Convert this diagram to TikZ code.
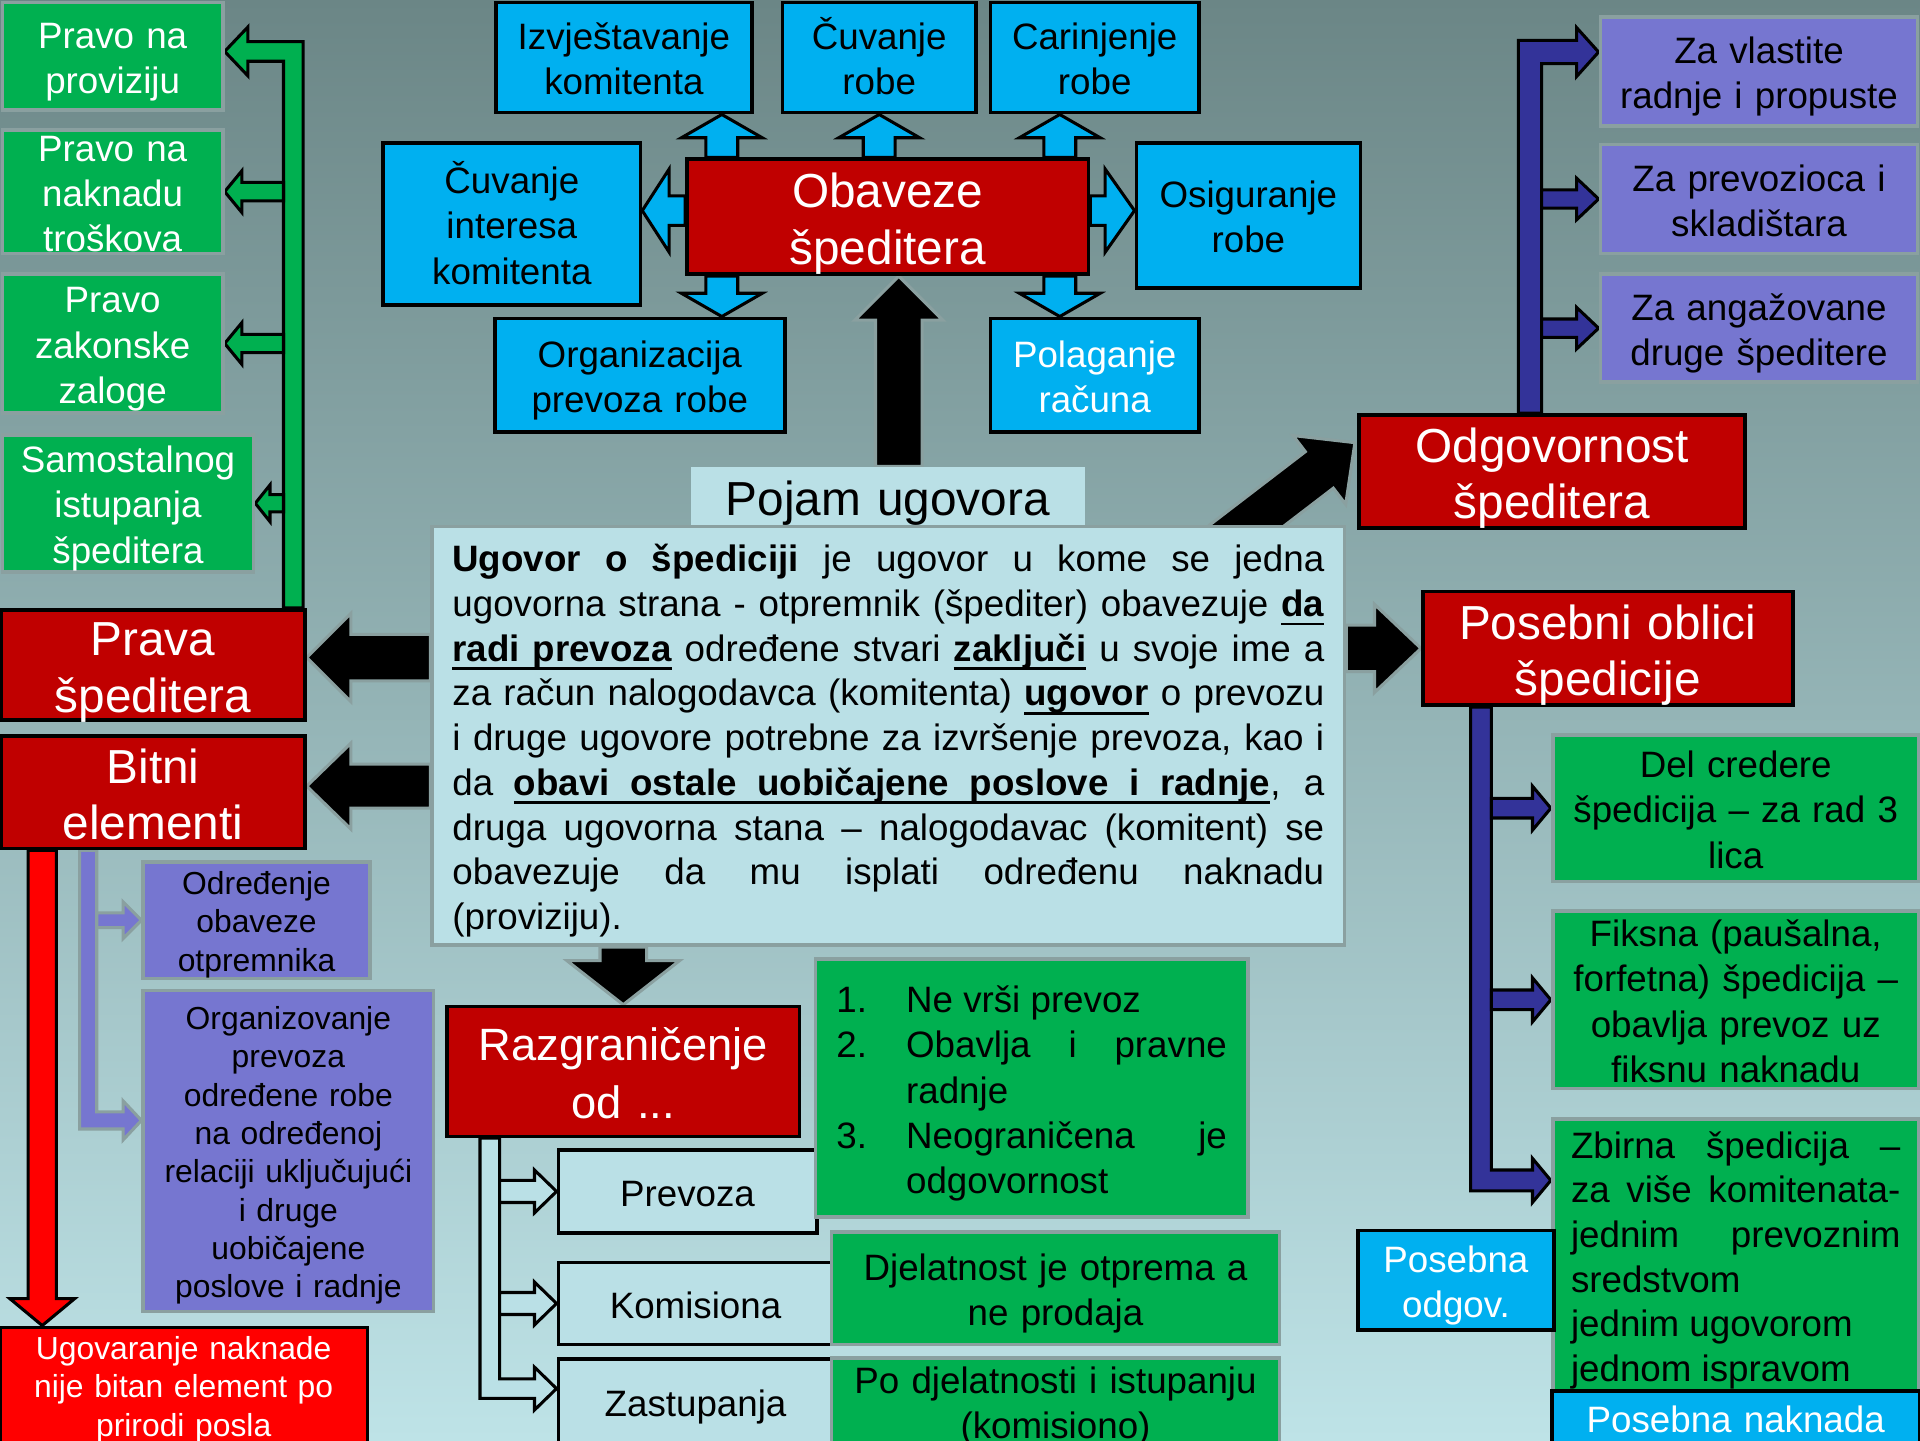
\documentclass[tikz,border=0pt]{standalone}
\usepackage{fontspec}
\setmainfont{Liberation Sans}
\usetikzlibrary{calc,backgrounds}

\definecolor{bgtop}{RGB}{107,134,134}
\definecolor{bgbot}{RGB}{190,227,231}
\definecolor{grn}{RGB}{0,176,80}
\definecolor{cyanb}{RGB}{0,176,240}
\definecolor{darkred}{RGB}{192,0,0}
\definecolor{brightred}{RGB}{255,0,0}
\definecolor{lila}{RGB}{118,118,208}
\definecolor{navy}{RGB}{51,51,153}
\definecolor{pale}{RGB}{186,224,230}
\definecolor{rim}{RGB}{138,160,160}

\newcommand{\fs}[2]{\fontsize{#1}{#2}\selectfont}
% underlined word and underlined stretchable space
\newsavebox{\ulbox}
\newcommand{\ulw}[1]{\sbox\ulbox{#1}\rlap{\rule[-7pt]{\wd\ulbox}{2pt}}\usebox\ulbox}
\newcommand{\ulsp}{\leaders\vrule height -5pt depth 7pt\hskip\fontdimen2\font plus\fontdimen3\font minus\fontdimen4\font\relax}

\begin{document}
\begin{tikzpicture}[
  x=1pt, y=-1pt,
  box/.style={inner xsep=0pt, inner ysep=-20pt, align=center, font=\fs{30}{37},
    text width={\pgfkeysvalueof{/pgf/minimum width}-4pt},
    execute at begin node={\rule{0pt}{1.07em}},
    execute at end node={\rule[-0.27em]{0pt}{0.27em}}},
  greenbox/.style={box, fill=grn, draw=rim, line width=3pt},
  bluebox/.style={box, fill=cyanb, draw=black, line width=3pt},
  redbox/.style={box, fill=darkred, draw=black, line width=3pt, text=white, font=\fs{39}{46}},
  lilabox/.style={box, fill=lila, draw=rim, line width=3pt, font=\fs{26}{31.3}},
  palebox/.style={box, fill=pale, draw=black, line width=3pt},
  fat/.style n args={3}{to path={
    ($(\tikztostart)!#1!90:(\tikztotarget)$)
    -- ($(\tikztotarget)!#3!(\tikztostart)!#1!90:(\tikztotarget)$)
    -- ($(\tikztotarget)!#3!(\tikztostart)!#2!90:(\tikztotarget)$)
    -- (\tikztotarget)
    -- ($(\tikztotarget)!#3!(\tikztostart)!#2!-90:(\tikztotarget)$)
    -- ($(\tikztotarget)!#3!(\tikztostart)!#1!-90:(\tikztotarget)$)
    -- ($(\tikztostart)!#1!-90:(\tikztotarget)$)
    -- cycle}},
  fatbend/.style n args={3}{to path={
    let \p1=(\tikztostart), \p2=(\tikztotarget),
        \n1={sign(\x2-\x1)}, \n2={sign(\y2-\y1)} in
    ({\x1+(\n1)*(#1)}, \y1)
    -- ({\x1+(\n1)*(#1)}, {\y2-(\n2)*(#1)})
    -- ({\x2-(\n1)*(#3)}, {\y2-(\n2)*(#1)})
    -- ({\x2-(\n1)*(#3)}, {\y2-(\n2)*(#2)})
    -- (\p2)
    -- ({\x2-(\n1)*(#3)}, {\y2+(\n2)*(#2)})
    -- ({\x2-(\n1)*(#3)}, {\y2+(\n2)*(#1)})
    -- ({\x1-(\n1)*(#1)}, {\y2+(\n2)*(#1)})
    -- ({\x1-(\n1)*(#1)}, \y1)
    -- cycle}},
  blueflow/.style={fill=cyanb, draw=black, line width=2.5pt},
  blackflow/.style={fill=black, draw=rim, line width=2.5pt},
  redflow/.style={fill=brightred, draw=black, line width=2.5pt},
  greenflow/.style={fill=grn, draw=black, line width=2.5pt},
  navyflow/.style={fill=navy, draw=black, line width=2.5pt},
  lilaflow/.style={fill=lila, draw=rim, line width=2.5pt},
  paleflow/.style={fill=pale, draw=black, line width=2.5pt},
]
  \useasboundingbox (0,0) rectangle (1568,1176);

  % Left: rights of the forwarder
  \node[greenbox, text=white, minimum width=180pt, minimum height=88pt] (provizija) at (92,46) {Pravo na\\proviziju};
  \node[greenbox, text=white, minimum width=180pt, minimum height=101pt] (naknada) at (92,156.5) {Pravo na\\naknadu\\troškova};
  \node[greenbox, text=white, minimum width=180pt, minimum height=113pt] (zaloga) at (92,280.5) {Pravo\\zakonske\\zaloge};
  \node[greenbox, text=white, minimum width=205pt, minimum height=112pt] (samostalno) at (104.5,411) {Samostalnog\\istupanja\\špeditera};
  \node[redbox, minimum width=248pt, minimum height=90pt] (prava) at (125,543) {Prava\\špeditera};
  \node[redbox, minimum width=248pt, minimum height=92pt] (bitni) at (125,647) {Bitni\\elementi};

  % Left bottom: essential elements
  \node[lilabox, minimum width=185pt, minimum height=95pt] (odredjenje) at (209.5,751.5) {Određenje\\obaveze\\otpremnika};
  \node[lilabox, minimum width=237pt, minimum height=262pt] (organizovanje) at (235.5,940) {Organizovanje\\prevoza\\određene robe\\na određenoj\\relaciji uključujući\\i druge\\uobičajene\\poslove i radnje};
  \node[box, fill=brightred, draw=black, line width=3pt, text=white, font=\fs{26}{31.5}, minimum width=300pt, minimum height=94pt] (ugovaranje) at (150,1131) {Ugovaranje naknade\\nije bitan element po\\prirodi posla};

  % Top: obligations of the forwarder
  \node[redbox, minimum width=328pt, minimum height=94pt] (obaveze) at (725,177) {Obaveze\\špeditera};
  \node[bluebox, minimum width=209pt, minimum height=90pt] (izvjestavanje) at (509.5,47) {Izvještavanje\\komitenta};
  \node[bluebox, minimum width=158pt, minimum height=90pt] (cuvanjeRobe) at (718,47) {Čuvanje\\robe};
  \node[bluebox, minimum width=170pt, minimum height=90pt] (carinjenje) at (894,47) {Carinjenje\\robe};
  \node[bluebox, minimum width=210pt, minimum height=132pt] (interes) at (418,183) {Čuvanje\\interesa\\komitenta};
  \node[bluebox, minimum width=183pt, minimum height=118pt] (osiguranje) at (1019.5,176) {Osiguranje\\robe};
  \node[bluebox, minimum width=237pt, minimum height=93pt] (organizacija) at (522.5,306.5) {Organizacija\\prevoza robe};
  \node[bluebox, text=white, minimum width=170pt, minimum height=93pt] (polaganje) at (894,306.5) {Polaganje\\računa};

  % Centre: notion of the contract
  \node[box, fill=pale, font=\fs{39}{46}, minimum width=322pt, minimum height=48pt] (pojam) at (725,405) {Pojam ugovora};
  \node[box, fill=pale, draw=rim, line width=3pt, font=\fs{30}{36.5}, minimum width=745pt, minimum height=342pt, text width=712pt, align=justify] (ugovor) at (725.5,601) {%
    \textbf{Ugovor o špediciji} je ugovor u kome se jedna\linebreak
    ugovorna strana - otpremnik (špediter) obavezuje {\bfseries\ulw{da}}\linebreak
    {\bfseries\ulw{radi}\ulsp\ulw{prevoza}} određene stvari {\bfseries\ulw{zaključi}} u svoje ime a\linebreak
    za račun nalogodavca (komitenta) {\bfseries\ulw{ugovor}} o prevozu\linebreak
    i druge ugovore potrebne za izvršenje prevoza, kao i\linebreak
    da {\bfseries\ulw{obavi}\ulsp\ulw{ostale}\ulsp\ulw{uobičajene}\ulsp\ulw{poslove}\ulsp\ulw{i}\ulsp\ulw{radnje}}, a\linebreak
    druga ugovorna stana – nalogodavac (komitent) se\linebreak
    obavezuje da mu isplati određenu naknadu\linebreak
    (proviziju).};

  % Right top: liability
  \node[redbox, minimum width=315pt, minimum height=92pt] (odgovornost) at (1267.5,385) {Odgovornost\\špeditera};
  \node[lilabox, font=\fs{30}{37}, minimum width=259pt, minimum height=89pt] (vlastite) at (1436.5,58.5) {Za vlastite\\radnje i propuste};
  \node[lilabox, font=\fs{30}{37}, minimum width=259pt, minimum height=89pt] (prevozilac) at (1436.5,162.5) {Za prevozioca i\\skladištara};
  \node[lilabox, font=\fs{30}{37}, minimum width=259pt, minimum height=88pt] (angazovane) at (1436.5,268) {Za angažovane\\druge špeditere};

  % Right bottom: special forms
  \node[redbox, minimum width=302pt, minimum height=93pt] (posebni) at (1313,529.5) {Posebni oblici\\špedicije};
  \node[greenbox, minimum width=299pt, minimum height=120pt] (delcredere) at (1417.5,660) {Del credere\\špedicija – za rad 3\\lica};
  \node[greenbox, minimum width=299pt, minimum height=145pt] (fiksna) at (1417.5,816.5) {Fiksna (paušalna,\\forfetna) špedicija –\\obavlja prevoz uz\\fiksnu naknadu};
  \node[greenbox, font=\fs{30}{36.5}, minimum width=299pt, minimum height=222pt, text width=269pt, align=justify] (zbirna) at (1417.5,1025) {%
    Zbirna špedicija –\linebreak
    za više komitenata-\linebreak
    jednim prevoznim\linebreak
    sredstvom\\
    jednim ugovorom\\
    jednom ispravom};
  \node[bluebox, text=white, minimum width=160pt, minimum height=81pt] (posebnaOdgov) at (1189,1045.5) {Posebna\\odgov.};
  \node[bluebox, text=white, minimum width=300pt, minimum height=44pt] (posebnaNaknada) at (1417.5,1158) {Posebna naknada};

  % Bottom: delimitation
  \node[redbox, font=\fs{37}{47}, minimum width=288pt, minimum height=106pt] (razgranicenje) at (509,875) {Razgraničenje\\od ...};
  \node[palebox, minimum width=211pt, minimum height=68pt] (prevoza) at (561.5,973) {Prevoza};
  \node[palebox, minimum width=224pt, minimum height=67pt] (komisiona) at (568,1064.5) {Komisiona};
  \node[palebox, minimum width=224pt, minimum height=70pt] (zastupanja) at (568,1145) {Zastupanja};
  \node[greenbox, minimum width=353pt, minimum height=211pt, text width=319pt, align=justify] (razlike) at (842.5,888.5) {%
    \raisebox{-5pt}[\height][\depth]{\begin{tabular}{@{}p{57pt}@{}p{262pt}@{}}
      1. & Ne vrši prevoz\\
      2. & Obavlja i pravne\linebreak radnje\\
      3. & Neograničena je\linebreak odgovornost
    \end{tabular}}};
  \node[greenbox, minimum width=366pt, minimum height=92pt] (djelatnost) at (862,1052) {Djelatnost je otprema a\\ne prodaja};
  \node[greenbox, minimum width=366pt, minimum height=71pt] (podjelatnosti) at (862,1144.5) {Po djelatnosti i istupanju\\(komisiono)};

  % Connector ends
  \coordinate (obA) at ($(obaveze.north west)+(30,0)$);
  \coordinate (izvB) at (obA |- izvjestavanje.south);
  \coordinate (obM) at (cuvanjeRobe.south |- obaveze.north);
  \coordinate (obC) at ($(obaveze.north east)+(-25,0)$);
  \coordinate (carB) at (obC |- carinjenje.south);
  \coordinate (obB) at ($(obaveze.south west)+(30,0)$);
  \coordinate (orgT) at (obB |- organizacija.north);
  \coordinate (obD) at ($(obaveze.south east)+(-25,0)$);
  \coordinate (polT) at (obD |- polaganje.north);
  \coordinate (obL) at ($(obaveze.west)+(0,-5)$);
  \coordinate (intE) at (obL -| interes.east);
  \coordinate (obR) at ($(obaveze.east)+(0,-5)$);
  \coordinate (osiW) at (obR -| osiguranje.west);

  \coordinate (pojN) at ($(pojam.north)+(9,0)$);
  \coordinate (obavS) at (pojN |- obaveze.south);
  \coordinate (ugO) at ($(ugovor.north east)+(-100,15)$);
  \coordinate (odgW) at ($(odgovornost.west)+(-2,-23.5)$);
  \coordinate (ugP) at (ugovor.east |- posebni.west);
  \coordinate (pravaE) at ($(prava.east)+(0,-6)$);
  \coordinate (ugL1) at (ugovor.west |- pravaE);
  \coordinate (bitniE) at ($(bitni.east)+(0,-5)$);
  \coordinate (ugL2) at (ugovor.west |- bitniE);
  \coordinate (ugS) at (razgranicenje.north |- ugovor.south);
  \coordinate (bitA) at ($(bitni.south west)+(35,0)$);
  \coordinate (ugvN) at (bitA |- ugovaranje.north);

  \coordinate (gS) at ($(prava.north west)+(240,0)$);
  \coordinate (gT) at ($(provizija.east)+(0,-4)$);
  \coordinate (gL) at ($(gS)+(-8,0)$);
  \coordinate (g2) at (gL |- naknada.east);
  \coordinate (g3) at (gL |- zaloga.east);
  \coordinate (g4) at (gL |- samostalno.east);

  \coordinate (nS) at ($(odgovornost.north west)+(141,0)$);
  \coordinate (nT) at ($(vlastite.west)+(0,-16)$);
  \coordinate (nR) at ($(nS)+(9.5,0)$);
  \coordinate (n2) at (nR |- prevozilac.west);
  \coordinate (n3) at (nR |- angazovane.west);

  \coordinate (lS) at ($(bitni.south west)+(72.5,0)$);
  \coordinate (lT) at ($(organizovanje.west)+(0,-25)$);
  \coordinate (lR) at ($(lS)+(7,0)$);
  \coordinate (l2) at (lR |- odredjenje.west);

  \coordinate (rS) at ($(razgranicenje.south west)+(36.5,0)$);
  \coordinate (rT) at ($(zastupanja.west)+(0,-11)$);
  \coordinate (rR) at ($(rS)+(8,0)$);
  \coordinate (r2) at (rR |- prevoza.west);
  \coordinate (r3) at (rR |- komisiona.west);

  \coordinate (pS) at ($(posebni.south west)+(49,0)$);
  \coordinate (pT) at ($(zbirna.west)+(0,-61)$);
  \coordinate (pR) at ($(pS)+(8.5,0)$);
  \coordinate (p2) at (pR |- delcredere.west);
  \coordinate (p3) at (pR |- fiksna.west);

  \begin{scope}[on background layer]
    \shade[top color=bgtop, bottom color=bgbot] (0,0) rectangle (1568,1176);

    % Obligations around the centre box
    \draw[blueflow, fat={13pt}{33pt}{19pt}] (obA) to (izvB);
    \draw[blueflow, fat={13pt}{33pt}{19pt}] (obM) to (cuvanjeRobe.south);
    \draw[blueflow, fat={13pt}{33pt}{19pt}] (obC) to (carB);
    \draw[blueflow, fat={13pt}{33pt}{19pt}] (obB) to (orgT);
    \draw[blueflow, fat={13pt}{33pt}{19pt}] (obD) to (polT);
    \draw[blueflow, fat={12pt}{34pt}{22pt}] (obL) to (intE);
    \draw[blueflow, fat={12pt}{34pt}{24pt}] (obR) to (osiW);

    % Main flows out of the contract
    \draw[blackflow, fat={19pt}{36pt}{36pt}] (pojN) to (obavS);
    \draw[blackflow, fat={18.8pt}{35.4pt}{36.6pt}] (ugO) to (odgW);
    \draw[blackflow, fat={19pt}{36pt}{38pt}] (ugP) to (posebni.west);
    \draw[blackflow, fat={19pt}{36pt}{36pt}] (ugL1) to (pravaE);
    \draw[blackflow, fat={18pt}{35pt}{36pt}] (ugL2) to (bitniE);
    \draw[blackflow, fat={19pt}{46pt}{36pt}] (ugS) to (razgranicenje.north);
    \draw[redflow, fat={11.5pt}{26.5pt}{22pt}] (bitA) to (ugvN);

    % Trees
    \draw[greenflow, fatbend={8pt}{20pt}{19pt}] (gS) to (gT);
    \draw[greenflow, fat={7.5pt}{17pt}{14pt}] (g2) to (naknada.east);
    \draw[greenflow, fat={7.5pt}{17pt}{14pt}] (g3) to (zaloga.east);
    \draw[greenflow, fat={7pt}{15pt}{12pt}] (g4) to (samostalno.east);

    \draw[navyflow, fatbend={9.5pt}{20pt}{18pt}] (nS) to (nT);
    \draw[navyflow, fat={7.5pt}{17pt}{18pt}] (n2) to (prevozilac.west);
    \draw[navyflow, fat={7.5pt}{17pt}{18pt}] (n3) to (angazovane.west);

    \draw[lilaflow, fatbend={7pt}{16pt}{15pt}] (lS) to (lT);
    \draw[lilaflow, fat={6pt}{15pt}{15pt}] (l2) to (odredjenje.west);

    \draw[paleflow, fatbend={8pt}{17.5pt}{18pt}] (rS) to (rT);
    \draw[paleflow, fat={9pt}{17.5pt}{18pt}] (r2) to (prevoza.west);
    \draw[paleflow, fat={9pt}{17.5pt}{18pt}] (r3) to (komisiona.west);

    \draw[navyflow, fatbend={8.5pt}{18pt}{15pt}] (pS) to (pT);
    \draw[navyflow, fat={8pt}{18pt}{15pt}] (p2) to (delcredere.west);
    \draw[navyflow, fat={8pt}{18pt}{15pt}] (p3) to (fiksna.west);
  \end{scope}
\end{tikzpicture}
\end{document}
